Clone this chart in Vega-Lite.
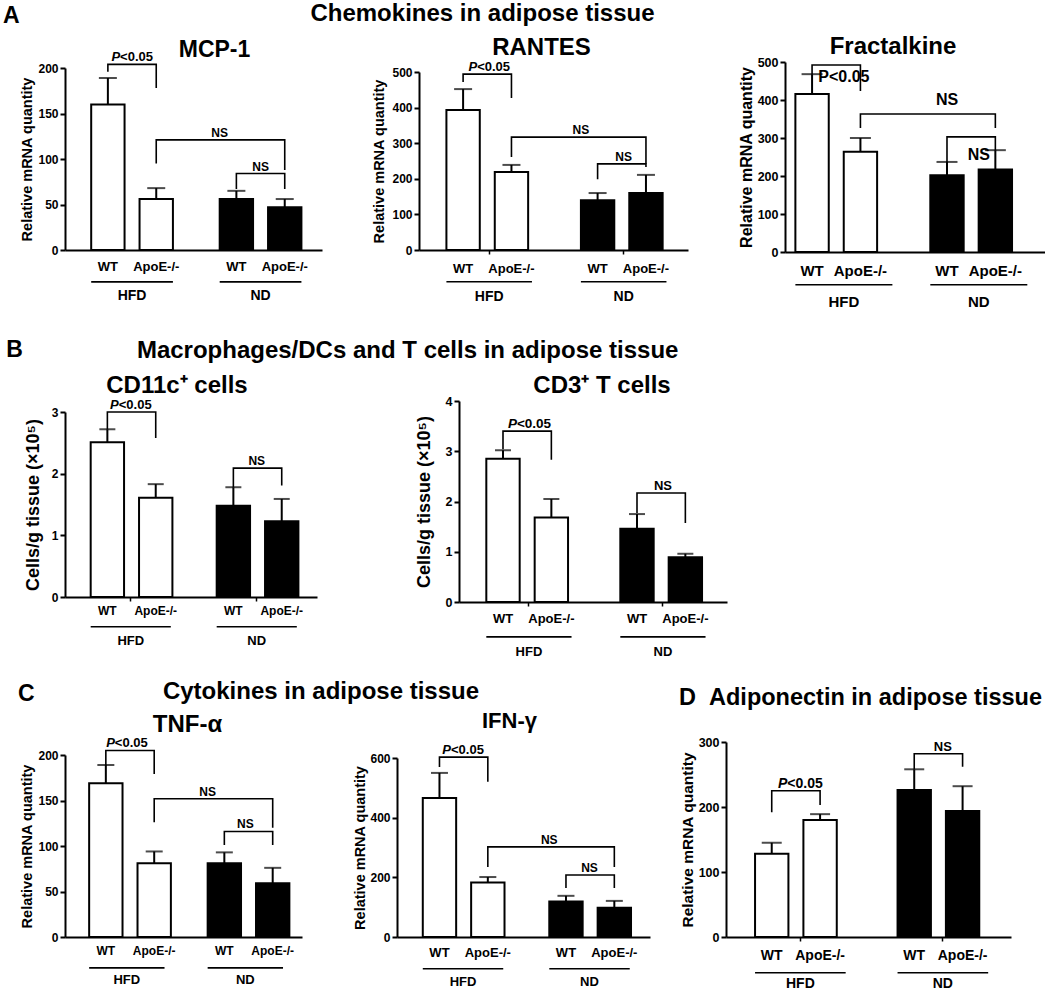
{
"$schema":"https://vega.github.io/schema/vega-lite/v6.json",
"background":"white",
"padding":{"left":2,"top":2,"right":0,"bottom":0},
"config":{"font":"Liberation Sans","view":{"stroke":null},"title":{"fontWeight":"bold","color":"black"},
"axis":{"domainColor":"black","domainWidth":2,"tickColor":"black","tickWidth":2,"tickSize":5,"labelColor":"black","titleColor":"black","labelFontWeight":"bold","titleFontWeight":"bold","grid":false,"labelPadding":2,"labelOverlap":false,"tickCount":10}},
"datasets":{
"bars":[
{"chart":"MCP-1","diet":"HFD","genotype":"WT","mean":160,"upper":189},
{"chart":"MCP-1","diet":"HFD","genotype":"ApoE-/-","mean":56,"upper":68},
{"chart":"MCP-1","diet":"ND","genotype":"WT","mean":56,"upper":65},
{"chart":"MCP-1","diet":"ND","genotype":"ApoE-/-","mean":47,"upper":56},
{"chart":"RANTES","diet":"HFD","genotype":"WT","mean":393,"upper":452},
{"chart":"RANTES","diet":"HFD","genotype":"ApoE-/-","mean":219,"upper":239},
{"chart":"RANTES","diet":"ND","genotype":"WT","mean":140,"upper":160},
{"chart":"RANTES","diet":"ND","genotype":"ApoE-/-","mean":160,"upper":211},
{"chart":"Fractalkine","diet":"HFD","genotype":"WT","mean":416,"upper":468},
{"chart":"Fractalkine","diet":"HFD","genotype":"ApoE-/-","mean":264,"upper":300},
{"chart":"Fractalkine","diet":"ND","genotype":"WT","mean":202,"upper":237},
{"chart":"Fractalkine","diet":"ND","genotype":"ApoE-/-","mean":217,"upper":268},
{"chart":"CD11c","diet":"HFD","genotype":"WT","mean":2.51,"upper":2.72},
{"chart":"CD11c","diet":"HFD","genotype":"ApoE-/-","mean":1.61,"upper":1.83},
{"chart":"CD11c","diet":"ND","genotype":"WT","mean":1.48,"upper":1.78},
{"chart":"CD11c","diet":"ND","genotype":"ApoE-/-","mean":1.23,"upper":1.59},
{"chart":"CD3","diet":"HFD","genotype":"WT","mean":2.85,"upper":3.02},
{"chart":"CD3","diet":"HFD","genotype":"ApoE-/-","mean":1.68,"upper":2.05},
{"chart":"CD3","diet":"ND","genotype":"WT","mean":1.46,"upper":1.75},
{"chart":"CD3","diet":"ND","genotype":"ApoE-/-","mean":0.89,"upper":0.96},
{"chart":"TNF","diet":"HFD","genotype":"WT","mean":169,"upper":189},
{"chart":"TNF","diet":"HFD","genotype":"ApoE-/-","mean":81,"upper":94},
{"chart":"TNF","diet":"ND","genotype":"WT","mean":81,"upper":93},
{"chart":"TNF","diet":"ND","genotype":"ApoE-/-","mean":59,"upper":76},
{"chart":"IFN","diet":"HFD","genotype":"WT","mean":466,"upper":550},
{"chart":"IFN","diet":"HFD","genotype":"ApoE-/-","mean":183,"upper":201},
{"chart":"IFN","diet":"ND","genotype":"WT","mean":119,"upper":138},
{"chart":"IFN","diet":"ND","genotype":"ApoE-/-","mean":98,"upper":121},
{"chart":"Adiponectin","diet":"HFD","genotype":"WT","mean":128,"upper":145},
{"chart":"Adiponectin","diet":"HFD","genotype":"ApoE-/-","mean":180,"upper":189},
{"chart":"Adiponectin","diet":"ND","genotype":"WT","mean":226,"upper":258},
{"chart":"Adiponectin","diet":"ND","genotype":"ApoE-/-","mean":194,"upper":232}
],
"brackets":[
{"chart":"MCP-1","b":"p","i":0,"diet":"HFD","genotype":"WT","y":196},
{"chart":"MCP-1","b":"p","i":1,"diet":"HFD","genotype":"WT","y":204},
{"chart":"MCP-1","b":"p","i":2,"diet":"HFD","genotype":"ApoE-/-","y":204},
{"chart":"MCP-1","b":"p","i":3,"diet":"HFD","genotype":"ApoE-/-","y":178},
{"chart":"MCP-1","b":"n1","i":0,"diet":"HFD","genotype":"ApoE-/-","y":95},
{"chart":"MCP-1","b":"n1","i":1,"diet":"HFD","genotype":"ApoE-/-","y":121},
{"chart":"MCP-1","b":"n1","i":2,"diet":"ND","genotype":"ApoE-/-","y":121},
{"chart":"MCP-1","b":"n1","i":3,"diet":"ND","genotype":"ApoE-/-","y":88},
{"chart":"MCP-1","b":"n2","i":0,"diet":"ND","genotype":"WT","y":67},
{"chart":"MCP-1","b":"n2","i":1,"diet":"ND","genotype":"WT","y":84},
{"chart":"MCP-1","b":"n2","i":2,"diet":"ND","genotype":"ApoE-/-","y":84},
{"chart":"MCP-1","b":"n2","i":3,"diet":"ND","genotype":"ApoE-/-","y":67},
{"chart":"RANTES","b":"p","i":0,"diet":"HFD","genotype":"WT","y":472},
{"chart":"RANTES","b":"p","i":1,"diet":"HFD","genotype":"WT","y":494},
{"chart":"RANTES","b":"p","i":2,"diet":"HFD","genotype":"ApoE-/-","y":494},
{"chart":"RANTES","b":"p","i":3,"diet":"HFD","genotype":"ApoE-/-","y":427},
{"chart":"RANTES","b":"n1","i":0,"diet":"HFD","genotype":"ApoE-/-","y":261},
{"chart":"RANTES","b":"n1","i":1,"diet":"HFD","genotype":"ApoE-/-","y":317},
{"chart":"RANTES","b":"n1","i":2,"diet":"ND","genotype":"ApoE-/-","y":317},
{"chart":"RANTES","b":"n1","i":3,"diet":"ND","genotype":"ApoE-/-","y":242},
{"chart":"RANTES","b":"n2","i":0,"diet":"ND","genotype":"WT","y":199},
{"chart":"RANTES","b":"n2","i":1,"diet":"ND","genotype":"WT","y":242},
{"chart":"RANTES","b":"n2","i":2,"diet":"ND","genotype":"ApoE-/-","y":242},
{"chart":"RANTES","b":"n2","i":3,"diet":"ND","genotype":"ApoE-/-","y":233},
{"chart":"Fractalkine","b":"p","i":0,"diet":"HFD","genotype":"WT","y":468},
{"chart":"Fractalkine","b":"p","i":1,"diet":"HFD","genotype":"WT","y":492},
{"chart":"Fractalkine","b":"p","i":2,"diet":"HFD","genotype":"ApoE-/-","y":492},
{"chart":"Fractalkine","b":"p","i":3,"diet":"HFD","genotype":"ApoE-/-","y":424},
{"chart":"Fractalkine","b":"n1","i":0,"diet":"HFD","genotype":"ApoE-/-","y":326},
{"chart":"Fractalkine","b":"n1","i":1,"diet":"HFD","genotype":"ApoE-/-","y":363},
{"chart":"Fractalkine","b":"n1","i":2,"diet":"ND","genotype":"ApoE-/-","y":363},
{"chart":"Fractalkine","b":"n1","i":3,"diet":"ND","genotype":"ApoE-/-","y":326},
{"chart":"Fractalkine","b":"n2","i":0,"diet":"ND","genotype":"WT","y":237},
{"chart":"Fractalkine","b":"n2","i":1,"diet":"ND","genotype":"WT","y":303},
{"chart":"Fractalkine","b":"n2","i":2,"diet":"ND","genotype":"ApoE-/-","y":303},
{"chart":"Fractalkine","b":"n2","i":3,"diet":"ND","genotype":"ApoE-/-","y":268},
{"chart":"CD11c","b":"p","i":0,"diet":"HFD","genotype":"WT","y":2.72},
{"chart":"CD11c","b":"p","i":1,"diet":"HFD","genotype":"WT","y":3.0},
{"chart":"CD11c","b":"p","i":2,"diet":"HFD","genotype":"ApoE-/-","y":3.0},
{"chart":"CD11c","b":"p","i":3,"diet":"HFD","genotype":"ApoE-/-","y":2.58},
{"chart":"CD11c","b":"n","i":0,"diet":"ND","genotype":"WT","y":1.78},
{"chart":"CD11c","b":"n","i":1,"diet":"ND","genotype":"WT","y":2.09},
{"chart":"CD11c","b":"n","i":2,"diet":"ND","genotype":"ApoE-/-","y":2.09},
{"chart":"CD11c","b":"n","i":3,"diet":"ND","genotype":"ApoE-/-","y":1.81},
{"chart":"CD3","b":"p","i":0,"diet":"HFD","genotype":"WT","y":3.04},
{"chart":"CD3","b":"p","i":1,"diet":"HFD","genotype":"WT","y":3.4},
{"chart":"CD3","b":"p","i":2,"diet":"HFD","genotype":"ApoE-/-","y":3.4},
{"chart":"CD3","b":"p","i":3,"diet":"HFD","genotype":"ApoE-/-","y":2.83},
{"chart":"CD3","b":"n","i":0,"diet":"ND","genotype":"WT","y":1.77},
{"chart":"CD3","b":"n","i":1,"diet":"ND","genotype":"WT","y":2.17},
{"chart":"CD3","b":"n","i":2,"diet":"ND","genotype":"ApoE-/-","y":2.17},
{"chart":"CD3","b":"n","i":3,"diet":"ND","genotype":"ApoE-/-","y":1.57},
{"chart":"TNF","b":"p","i":0,"diet":"HFD","genotype":"WT","y":189},
{"chart":"TNF","b":"p","i":1,"diet":"HFD","genotype":"WT","y":205},
{"chart":"TNF","b":"p","i":2,"diet":"HFD","genotype":"ApoE-/-","y":205},
{"chart":"TNF","b":"p","i":3,"diet":"HFD","genotype":"ApoE-/-","y":179},
{"chart":"TNF","b":"n1","i":0,"diet":"HFD","genotype":"ApoE-/-","y":126},
{"chart":"TNF","b":"n1","i":1,"diet":"HFD","genotype":"ApoE-/-","y":152},
{"chart":"TNF","b":"n1","i":2,"diet":"ND","genotype":"ApoE-/-","y":152},
{"chart":"TNF","b":"n1","i":3,"diet":"ND","genotype":"ApoE-/-","y":120},
{"chart":"TNF","b":"n2","i":0,"diet":"ND","genotype":"WT","y":101},
{"chart":"TNF","b":"n2","i":1,"diet":"ND","genotype":"WT","y":116},
{"chart":"TNF","b":"n2","i":2,"diet":"ND","genotype":"ApoE-/-","y":116},
{"chart":"TNF","b":"n2","i":3,"diet":"ND","genotype":"ApoE-/-","y":101},
{"chart":"IFN","b":"p","i":0,"diet":"HFD","genotype":"WT","y":570},
{"chart":"IFN","b":"p","i":1,"diet":"HFD","genotype":"WT","y":603},
{"chart":"IFN","b":"p","i":2,"diet":"HFD","genotype":"ApoE-/-","y":603},
{"chart":"IFN","b":"p","i":3,"diet":"HFD","genotype":"ApoE-/-","y":520},
{"chart":"IFN","b":"n1","i":0,"diet":"HFD","genotype":"ApoE-/-","y":235},
{"chart":"IFN","b":"n1","i":1,"diet":"HFD","genotype":"ApoE-/-","y":302},
{"chart":"IFN","b":"n1","i":2,"diet":"ND","genotype":"ApoE-/-","y":302},
{"chart":"IFN","b":"n1","i":3,"diet":"ND","genotype":"ApoE-/-","y":235},
{"chart":"IFN","b":"n2","i":0,"diet":"ND","genotype":"WT","y":164},
{"chart":"IFN","b":"n2","i":1,"diet":"ND","genotype":"WT","y":208},
{"chart":"IFN","b":"n2","i":2,"diet":"ND","genotype":"ApoE-/-","y":208},
{"chart":"IFN","b":"n2","i":3,"diet":"ND","genotype":"ApoE-/-","y":164},
{"chart":"Adiponectin","b":"p","i":0,"diet":"HFD","genotype":"WT","y":192},
{"chart":"Adiponectin","b":"p","i":1,"diet":"HFD","genotype":"WT","y":225},
{"chart":"Adiponectin","b":"p","i":2,"diet":"HFD","genotype":"ApoE-/-","y":225},
{"chart":"Adiponectin","b":"p","i":3,"diet":"HFD","genotype":"ApoE-/-","y":203},
{"chart":"Adiponectin","b":"n","i":0,"diet":"ND","genotype":"WT","y":258},
{"chart":"Adiponectin","b":"n","i":1,"diet":"ND","genotype":"WT","y":282},
{"chart":"Adiponectin","b":"n","i":2,"diet":"ND","genotype":"ApoE-/-","y":282},
{"chart":"Adiponectin","b":"n","i":3,"diet":"ND","genotype":"ApoE-/-","y":262}
],
"labels":[
{"chart":"MCP-1","label":"P<0.05","pos":"p","diet":"HFD","genotype":"WT","y":204},
{"chart":"MCP-1","label":"NS","pos":"a","diet":"ND","genotype":"WT","y":121},
{"chart":"MCP-1","label":"NS","pos":"c","diet":"ND","genotype":"WT","y":84},
{"chart":"RANTES","label":"P<0.05","pos":"p","diet":"HFD","genotype":"WT","y":494},
{"chart":"RANTES","label":"NS","pos":"a","diet":"ND","genotype":"WT","y":317},
{"chart":"RANTES","label":"NS","pos":"c","diet":"ND","genotype":"WT","y":242},
{"chart":"Fractalkine","label":"P<0.05","pos":"c","diet":"HFD","genotype":"WT","y":439},
{"chart":"Fractalkine","label":"NS","pos":"b","diet":"ND","genotype":"WT","y":379},
{"chart":"Fractalkine","label":"NS","pos":"c","diet":"ND","genotype":"WT","y":234},
{"chart":"CD11c","label":"P<0.05","pos":"p","diet":"HFD","genotype":"WT","y":3.0},
{"chart":"CD11c","label":"NS","pos":"c","diet":"ND","genotype":"WT","y":2.09},
{"chart":"CD3","label":"P<0.05","pos":"p","diet":"HFD","genotype":"WT","y":3.4},
{"chart":"CD3","label":"NS","pos":"c","diet":"ND","genotype":"WT","y":2.17},
{"chart":"TNF","label":"P<0.05","pos":"p","diet":"HFD","genotype":"WT","y":205},
{"chart":"TNF","label":"NS","pos":"a","diet":"ND","genotype":"WT","y":152},
{"chart":"TNF","label":"NS","pos":"c","diet":"ND","genotype":"WT","y":116},
{"chart":"IFN","label":"P<0.05","pos":"p","diet":"HFD","genotype":"WT","y":603},
{"chart":"IFN","label":"NS","pos":"a","diet":"ND","genotype":"WT","y":302},
{"chart":"IFN","label":"NS","pos":"c","diet":"ND","genotype":"WT","y":208},
{"chart":"Adiponectin","label":"P<0.05","pos":"p","diet":"HFD","genotype":"WT","y":225},
{"chart":"Adiponectin","label":"NS","pos":"c","diet":"ND","genotype":"WT","y":282}
]
},
"vconcat":[
{"vconcat":[
{"title":{"text":"A","anchor":"start","frame":"bounds","fontSize":23,"offset":-26,"dx":-17},
 "vconcat":[{"title":{"text":"Chemokines in adipose tissue","anchor":"middle","frame":"bounds","fontSize":24,"dx":-50,"offset":9},
 "bounds":"flush","spacing":97,
 "hconcat":[
{"width":257,"height":182,"title":{"text":"MCP-1","fontSize":23,"dx":21,"offset":-11},
"layer":[
{"data":{"name":"bars"},"transform":[{"filter":{"field":"chart","equal":"MCP-1"}}],"mark":{"type":"bar","stroke":"black","strokeWidth":2},
"encoding":{"x":{"field":"diet","type":"nominal","scale":{"domain":["HFD","ND"],"paddingInner":0.364,"paddingOuter":0.182,"align":0.56},"axis":{"title":null,"labelAngle":0,"labelFontSize":14,"labelPadding":38,"ticks":false}},
"xOffset":{"field":"genotype","type":"nominal","scale":{"domain":["WT","ApoE-/-"],"paddingInner":0.31,"paddingOuter":0}},
"y":{"field":"mean","type":"quantitative","scale":{"domain":[0,200],"nice":false},"axis":{"title":"Relative mRNA quantity","values":[0,50,100,150,200],"titleFontSize":14.5,"labelFontSize":12,"titlePadding":3}},
"fill":{"field":"diet","type":"nominal","scale":{"domain":["HFD","ND"],"range":["#ffffff","#000000"]},"legend":null}}},
{"data":{"name":"bars"},"transform":[{"filter":{"field":"chart","equal":"MCP-1"}}],"mark":{"type":"rule","color":"black","strokeWidth":2},
"encoding":{"x":{"field":"diet","type":"nominal","scale":{"domain":["HFD","ND"],"paddingInner":0.364,"paddingOuter":0.182,"align":0.56}},"xOffset":{"field":"genotype","type":"nominal","scale":{"domain":["WT","ApoE-/-"],"paddingInner":0.31,"paddingOuter":0}},"y":{"field":"mean","type":"quantitative","scale":{"domain":[0,200],"nice":false}},"y2":{"field":"upper"}}},
{"data":{"name":"bars"},"transform":[{"filter":{"field":"chart","equal":"MCP-1"}}],"mark":{"type":"tick","color":"black","thickness":2,"size":18},
"encoding":{"x":{"field":"diet","type":"nominal","scale":{"domain":["HFD","ND"],"paddingInner":0.364,"paddingOuter":0.182,"align":0.56}},"xOffset":{"field":"genotype","type":"nominal","scale":{"domain":["WT","ApoE-/-"],"paddingInner":0.31,"paddingOuter":0}},"y":{"field":"upper","type":"quantitative","scale":{"domain":[0,200],"nice":false}}}},
{"data":{"name":"bars"},"transform":[{"filter":{"field":"chart","equal":"MCP-1"}}],"mark":{"type":"text","baseline":"top","dy":11,"fontSize":13,"fontWeight":"bold","color":"black"},
"encoding":{"x":{"field":"diet","type":"nominal","scale":{"domain":["HFD","ND"],"paddingInner":0.364,"paddingOuter":0.182,"align":0.56}},"xOffset":{"field":"genotype","type":"nominal","scale":{"domain":["WT","ApoE-/-"],"paddingInner":0.31,"paddingOuter":0}},"y":{"datum":0,"type":"quantitative","scale":{"domain":[0,200],"nice":false}},"text":{"field":"genotype"}}},
{"data":{"name":"bars"},"transform":[{"filter":{"field":"chart","equal":"MCP-1"}},{"filter":{"field":"genotype","equal":"WT"}}],"mark":{"type":"bar","color":"black"},
"encoding":{"x":{"field":"diet","type":"nominal","scale":{"domain":["HFD","ND"],"paddingInner":0.364,"paddingOuter":0.182,"align":0.56}},"y":{"datum":-34.1,"type":"quantitative","scale":{"domain":[0,200],"nice":false}},"y2":{"datum":-35.9}}},
{"data":{"name":"brackets"},"transform":[{"filter":{"field":"chart","equal":"MCP-1"}}],"mark":{"type":"line","color":"black","strokeWidth":1.6},
"encoding":{"x":{"field":"diet","type":"nominal","scale":{"domain":["HFD","ND"],"paddingInner":0.364,"paddingOuter":0.182,"align":0.56}},"xOffset":{"field":"genotype","type":"nominal","scale":{"domain":["WT","ApoE-/-"],"paddingInner":0.31,"paddingOuter":0}},"y":{"field":"y","type":"quantitative","scale":{"domain":[0,200],"nice":false}},"detail":{"field":"b","type":"nominal"},"order":{"field":"i","type":"quantitative"}}},
{"data":{"name":"labels"},"transform":[{"filter":{"field":"chart","equal":"MCP-1"}},{"filter":{"field":"pos","equal":"c"}}],"mark":{"type":"text","baseline":"alphabetic","dy":-3,"fontSize":12,"fontWeight":"bold","color":"black"},
"encoding":{"x":{"field":"diet","type":"nominal","scale":{"domain":["HFD","ND"],"paddingInner":0.364,"paddingOuter":0.182,"align":0.56}},"y":{"field":"y","type":"quantitative","scale":{"domain":[0,200],"nice":false}},"text":{"field":"label"}}},
{"data":{"name":"labels"},"transform":[{"filter":{"field":"chart","equal":"MCP-1"}},{"filter":{"field":"pos","equal":"a"}}],"mark":{"type":"text","baseline":"alphabetic","dy":-3,"fontSize":12,"fontWeight":"bold","color":"black"},
"encoding":{"x":{"field":"diet","type":"nominal","bandPosition":0,"scale":{"domain":["HFD","ND"],"paddingInner":0.364,"paddingOuter":0.182,"align":0.56}},"y":{"field":"y","type":"quantitative","scale":{"domain":[0,200],"nice":false}},"text":{"field":"label"}}},
{"data":{"name":"labels"},"transform":[{"filter":{"field":"chart","equal":"MCP-1"}},{"filter":{"field":"pos","equal":"p"}}],"mark":{"type":"text","baseline":"alphabetic","align":"right","dy":-3,"dx":-12,"fontSize":13,"fontWeight":"bold","fontStyle":"italic","color":"black"},
"encoding":{"x":{"field":"diet","type":"nominal","scale":{"domain":["HFD","ND"],"paddingInner":0.364,"paddingOuter":0.182,"align":0.56}},"y":{"field":"y","type":"quantitative","scale":{"domain":[0,200],"nice":false}},"text":{"value":"P"}}},
{"data":{"name":"labels"},"transform":[{"filter":{"field":"chart","equal":"MCP-1"}},{"filter":{"field":"pos","equal":"p"}}],"mark":{"type":"text","baseline":"alphabetic","align":"left","dy":-3,"dx":-12,"fontSize":13,"fontWeight":"bold","color":"black"},
"encoding":{"x":{"field":"diet","type":"nominal","scale":{"domain":["HFD","ND"],"paddingInner":0.364,"paddingOuter":0.182,"align":0.56}},"y":{"field":"y","type":"quantitative","scale":{"domain":[0,200],"nice":false}},"text":{"value":"<0.05"}}}
]},
{"width":269,"height":182,"title":{"text":"RANTES","fontSize":24,"dx":-12,"offset":1},
"layer":[
{"data":{"name":"bars"},"transform":[{"filter":{"field":"chart","equal":"RANTES"}}],"mark":{"type":"bar","stroke":"black","strokeWidth":2},
"encoding":{"x":{"field":"diet","type":"nominal","scale":{"domain":["HFD","ND"],"paddingInner":0.364,"paddingOuter":0.182,"align":0.56},"axis":{"title":null,"labelAngle":0,"labelFontSize":14,"labelPadding":35,"ticks":true,"tickSize":4,"tickWidth":1.5}},
"xOffset":{"field":"genotype","type":"nominal","scale":{"domain":["WT","ApoE-/-"],"paddingInner":0.31,"paddingOuter":0}},
"y":{"field":"mean","type":"quantitative","scale":{"domain":[0,500],"range":[182,4],"nice":false},"axis":{"title":"Relative mRNA quantity","values":[0,100,200,300,400,500],"tickCount":10,"titleFontSize":14.5,"labelFontSize":12,"titlePadding":5}},
"fill":{"field":"diet","type":"nominal","scale":{"domain":["HFD","ND"],"range":["#ffffff","#000000"]},"legend":null}}},
{"data":{"name":"bars"},"transform":[{"filter":{"field":"chart","equal":"RANTES"}}],"mark":{"type":"rule","color":"black","strokeWidth":2},
"encoding":{"x":{"field":"diet","type":"nominal","scale":{"domain":["HFD","ND"],"paddingInner":0.364,"paddingOuter":0.182,"align":0.56}},"xOffset":{"field":"genotype","type":"nominal","scale":{"domain":["WT","ApoE-/-"],"paddingInner":0.31,"paddingOuter":0}},"y":{"field":"mean","type":"quantitative","scale":{"domain":[0,500],"range":[182,4],"nice":false}},"y2":{"field":"upper"}}},
{"data":{"name":"bars"},"transform":[{"filter":{"field":"chart","equal":"RANTES"}}],"mark":{"type":"tick","color":"black","thickness":2,"size":18},
"encoding":{"x":{"field":"diet","type":"nominal","scale":{"domain":["HFD","ND"],"paddingInner":0.364,"paddingOuter":0.182,"align":0.56}},"xOffset":{"field":"genotype","type":"nominal","scale":{"domain":["WT","ApoE-/-"],"paddingInner":0.31,"paddingOuter":0}},"y":{"field":"upper","type":"quantitative","scale":{"domain":[0,500],"range":[182,4],"nice":false}}}},
{"data":{"name":"bars"},"transform":[{"filter":{"field":"chart","equal":"RANTES"}}],"mark":{"type":"text","baseline":"top","dy":13,"fontSize":13,"fontWeight":"bold","color":"black"},
"encoding":{"x":{"field":"diet","type":"nominal","scale":{"domain":["HFD","ND"],"paddingInner":0.364,"paddingOuter":0.182,"align":0.56}},"xOffset":{"field":"genotype","type":"nominal","scale":{"domain":["WT","ApoE-/-"],"paddingInner":0.31,"paddingOuter":0}},"y":{"datum":0,"type":"quantitative","scale":{"domain":[0,500],"range":[182,4],"nice":false}},"text":{"field":"genotype"}}},
{"data":{"name":"bars"},"transform":[{"filter":{"field":"chart","equal":"RANTES"}},{"filter":{"field":"genotype","equal":"WT"}}],"mark":{"type":"bar","color":"black"},
"encoding":{"x":{"field":"diet","type":"nominal","scale":{"domain":["HFD","ND"],"paddingInner":0.364,"paddingOuter":0.182,"align":0.56}},"y":{"datum":-87.1,"type":"quantitative","scale":{"domain":[0,500],"range":[182,4],"nice":false}},"y2":{"datum":-91.6}}},
{"data":{"name":"brackets"},"transform":[{"filter":{"field":"chart","equal":"RANTES"}}],"mark":{"type":"line","color":"black","strokeWidth":1.6},
"encoding":{"x":{"field":"diet","type":"nominal","scale":{"domain":["HFD","ND"],"paddingInner":0.364,"paddingOuter":0.182,"align":0.56}},"xOffset":{"field":"genotype","type":"nominal","scale":{"domain":["WT","ApoE-/-"],"paddingInner":0.31,"paddingOuter":0}},"y":{"field":"y","type":"quantitative","scale":{"domain":[0,500],"range":[182,4],"nice":false}},"detail":{"field":"b","type":"nominal"},"order":{"field":"i","type":"quantitative"}}},
{"data":{"name":"labels"},"transform":[{"filter":{"field":"chart","equal":"RANTES"}},{"filter":{"field":"pos","equal":"c"}}],"mark":{"type":"text","baseline":"alphabetic","dy":-3,"fontSize":12,"fontWeight":"bold","color":"black"},
"encoding":{"x":{"field":"diet","type":"nominal","scale":{"domain":["HFD","ND"],"paddingInner":0.364,"paddingOuter":0.182,"align":0.56}},"y":{"field":"y","type":"quantitative","scale":{"domain":[0,500],"range":[182,4],"nice":false}},"text":{"field":"label"}}},
{"data":{"name":"labels"},"transform":[{"filter":{"field":"chart","equal":"RANTES"}},{"filter":{"field":"pos","equal":"a"}}],"mark":{"type":"text","baseline":"alphabetic","dy":-3,"fontSize":12,"fontWeight":"bold","color":"black"},
"encoding":{"x":{"field":"diet","type":"nominal","bandPosition":0,"scale":{"domain":["HFD","ND"],"paddingInner":0.364,"paddingOuter":0.182,"align":0.56}},"y":{"field":"y","type":"quantitative","scale":{"domain":[0,500],"range":[182,4],"nice":false}},"text":{"field":"label"}}},
{"data":{"name":"labels"},"transform":[{"filter":{"field":"chart","equal":"RANTES"}},{"filter":{"field":"pos","equal":"p"}}],"mark":{"type":"text","baseline":"alphabetic","align":"right","dy":-3,"dx":-12,"fontSize":13,"fontWeight":"bold","fontStyle":"italic","color":"black"},
"encoding":{"x":{"field":"diet","type":"nominal","scale":{"domain":["HFD","ND"],"paddingInner":0.364,"paddingOuter":0.182,"align":0.56}},"y":{"field":"y","type":"quantitative","scale":{"domain":[0,500],"range":[182,4],"nice":false}},"text":{"value":"P"}}},
{"data":{"name":"labels"},"transform":[{"filter":{"field":"chart","equal":"RANTES"}},{"filter":{"field":"pos","equal":"p"}}],"mark":{"type":"text","baseline":"alphabetic","align":"left","dy":-3,"dx":-12,"fontSize":13,"fontWeight":"bold","color":"black"},
"encoding":{"x":{"field":"diet","type":"nominal","scale":{"domain":["HFD","ND"],"paddingInner":0.364,"paddingOuter":0.182,"align":0.56}},"y":{"field":"y","type":"quantitative","scale":{"domain":[0,500],"range":[182,4],"nice":false}},"text":{"value":"<0.05"}}}
]},
{"width":260,"height":184,"title":{"text":"Fractalkine","fontSize":24,"dx":-22,"offset":-3},
"layer":[
{"data":{"name":"bars"},"transform":[{"filter":{"field":"chart","equal":"Fractalkine"}}],"mark":{"type":"bar","stroke":"black","strokeWidth":2},
"encoding":{"x":{"field":"diet","type":"nominal","scale":{"domain":["HFD","ND"],"paddingInner":0.281,"paddingOuter":0.104,"align":0.37},"axis":{"title":null,"labelAngle":0,"labelFontSize":15,"labelPadding":42,"ticks":false}},
"xOffset":{"field":"genotype","type":"nominal","scale":{"domain":["WT","ApoE-/-"],"paddingInner":0.327,"paddingOuter":0}},
"y":{"field":"mean","type":"quantitative","scale":{"domain":[0,500],"range":[184,-6],"nice":false},"axis":{"title":"Relative mRNA quantity","values":[0,100,200,300,400,500],"tickCount":10,"titleFontSize":16,"labelFontSize":12.5,"titlePadding":3}},
"fill":{"field":"diet","type":"nominal","scale":{"domain":["HFD","ND"],"range":["#ffffff","#000000"]},"legend":null}}},
{"data":{"name":"bars"},"transform":[{"filter":{"field":"chart","equal":"Fractalkine"}}],"mark":{"type":"rule","color":"black","strokeWidth":2},
"encoding":{"x":{"field":"diet","type":"nominal","scale":{"domain":["HFD","ND"],"paddingInner":0.281,"paddingOuter":0.104,"align":0.37}},"xOffset":{"field":"genotype","type":"nominal","scale":{"domain":["WT","ApoE-/-"],"paddingInner":0.327,"paddingOuter":0}},"y":{"field":"mean","type":"quantitative","scale":{"domain":[0,500],"range":[184,-6],"nice":false}},"y2":{"field":"upper"}}},
{"data":{"name":"bars"},"transform":[{"filter":{"field":"chart","equal":"Fractalkine"}}],"mark":{"type":"tick","color":"black","thickness":2,"size":21},
"encoding":{"x":{"field":"diet","type":"nominal","scale":{"domain":["HFD","ND"],"paddingInner":0.281,"paddingOuter":0.104,"align":0.37}},"xOffset":{"field":"genotype","type":"nominal","scale":{"domain":["WT","ApoE-/-"],"paddingInner":0.327,"paddingOuter":0}},"y":{"field":"upper","type":"quantitative","scale":{"domain":[0,500],"range":[184,-6],"nice":false}}}},
{"data":{"name":"bars"},"transform":[{"filter":{"field":"chart","equal":"Fractalkine"}}],"mark":{"type":"text","baseline":"top","dy":12,"fontSize":15,"fontWeight":"bold","color":"black"},
"encoding":{"x":{"field":"diet","type":"nominal","scale":{"domain":["HFD","ND"],"paddingInner":0.281,"paddingOuter":0.104,"align":0.37}},"xOffset":{"field":"genotype","type":"nominal","scale":{"domain":["WT","ApoE-/-"],"paddingInner":0.327,"paddingOuter":0}},"y":{"datum":0,"type":"quantitative","scale":{"domain":[0,500],"range":[184,-6],"nice":false}},"text":{"field":"genotype"}}},
{"data":{"name":"bars"},"transform":[{"filter":{"field":"chart","equal":"Fractalkine"}},{"filter":{"field":"genotype","equal":"WT"}}],"mark":{"type":"bar","color":"black"},
"encoding":{"x":{"field":"diet","type":"nominal","scale":{"domain":["HFD","ND"],"paddingInner":0.281,"paddingOuter":0.104,"align":0.37}},"y":{"datum":-84.2,"type":"quantitative","scale":{"domain":[0,500],"range":[184,-6],"nice":false}},"y2":{"datum":-88.4}}},
{"data":{"name":"brackets"},"transform":[{"filter":{"field":"chart","equal":"Fractalkine"}}],"mark":{"type":"line","color":"black","strokeWidth":1.6},
"encoding":{"x":{"field":"diet","type":"nominal","scale":{"domain":["HFD","ND"],"paddingInner":0.281,"paddingOuter":0.104,"align":0.37}},"xOffset":{"field":"genotype","type":"nominal","scale":{"domain":["WT","ApoE-/-"],"paddingInner":0.327,"paddingOuter":0}},"y":{"field":"y","type":"quantitative","scale":{"domain":[0,500],"range":[184,-6],"nice":false}},"detail":{"field":"b","type":"nominal"},"order":{"field":"i","type":"quantitative"}}},
{"data":{"name":"labels"},"transform":[{"filter":{"field":"chart","equal":"Fractalkine"}},{"filter":{"field":"pos","equal":"c"}}],"mark":{"type":"text","baseline":"alphabetic","dy":-3,"fontSize":16,"fontWeight":"bold","color":"black"},
"encoding":{"x":{"field":"diet","type":"nominal","scale":{"domain":["HFD","ND"],"paddingInner":0.281,"paddingOuter":0.104,"align":0.37}},"y":{"field":"y","type":"quantitative","scale":{"domain":[0,500],"range":[184,-6],"nice":false}},"text":{"field":"label"}}},
{"data":{"name":"labels"},"transform":[{"filter":{"field":"chart","equal":"Fractalkine"}},{"filter":{"field":"pos","equal":"b"}}],"mark":{"type":"text","baseline":"alphabetic","dy":-3,"fontSize":16,"fontWeight":"bold","color":"black"},
"encoding":{"x":{"field":"diet","type":"nominal","scale":{"domain":["HFD","ND"],"paddingInner":0.281,"paddingOuter":0.104,"align":0.37}},"xOffset":{"field":"genotype","type":"nominal","scale":{"domain":["WT","ApoE-/-"],"paddingInner":0.327,"paddingOuter":0}},"y":{"field":"y","type":"quantitative","scale":{"domain":[0,500],"range":[184,-6],"nice":false}},"text":{"field":"label"}}}
]}
]}]},
{"title":{"text":"B","anchor":"start","frame":"bounds","fontSize":23,"offset":-23,"dx":-18},
 "vconcat":[{"title":{"text":"Macrophages/DCs and T cells in adipose tissue","anchor":"middle","frame":"bounds","fontSize":24,"dx":32,"offset":11},
 "bounds":"flush","spacing":142,
 "hconcat":[
{"width":252,"height":185,"title":{"text":"CD11c⁺ cells","fontSize":24,"dx":-14,"offset":1},
"layer":[
{"data":{"name":"bars"},"transform":[{"filter":{"field":"chart","equal":"CD11c"}}],"mark":{"type":"bar","stroke":"black","strokeWidth":2},
"encoding":{"x":{"field":"diet","type":"nominal","scale":{"domain":["HFD","ND"],"paddingInner":0.364,"paddingOuter":0.182,"align":0.56},"axis":{"title":null,"labelAngle":0,"labelFontSize":13,"labelPadding":33,"ticks":true,"tickSize":4,"tickWidth":1.5}},
"xOffset":{"field":"genotype","type":"nominal","scale":{"domain":["WT","ApoE-/-"],"paddingInner":0.31,"paddingOuter":0}},
"y":{"field":"mean","type":"quantitative","scale":{"domain":[0,3],"nice":false},"axis":{"title":"Cells/g tissue (×10⁵)","values":[0,1,2,3],"format":"d","titleFontSize":18,"labelFontSize":12,"titlePadding":9}},
"fill":{"field":"diet","type":"nominal","scale":{"domain":["HFD","ND"],"range":["#ffffff","#000000"]},"legend":null}}},
{"data":{"name":"bars"},"transform":[{"filter":{"field":"chart","equal":"CD11c"}}],"mark":{"type":"rule","color":"black","strokeWidth":2},
"encoding":{"x":{"field":"diet","type":"nominal","scale":{"domain":["HFD","ND"],"paddingInner":0.364,"paddingOuter":0.182,"align":0.56}},"xOffset":{"field":"genotype","type":"nominal","scale":{"domain":["WT","ApoE-/-"],"paddingInner":0.31,"paddingOuter":0}},"y":{"field":"mean","type":"quantitative","scale":{"domain":[0,3],"nice":false}},"y2":{"field":"upper"}}},
{"data":{"name":"bars"},"transform":[{"filter":{"field":"chart","equal":"CD11c"}}],"mark":{"type":"tick","color":"black","thickness":2,"size":16},
"encoding":{"x":{"field":"diet","type":"nominal","scale":{"domain":["HFD","ND"],"paddingInner":0.364,"paddingOuter":0.182,"align":0.56}},"xOffset":{"field":"genotype","type":"nominal","scale":{"domain":["WT","ApoE-/-"],"paddingInner":0.31,"paddingOuter":0}},"y":{"field":"upper","type":"quantitative","scale":{"domain":[0,3],"nice":false}}}},
{"data":{"name":"bars"},"transform":[{"filter":{"field":"chart","equal":"CD11c"}}],"mark":{"type":"text","baseline":"top","dy":9,"fontSize":12,"fontWeight":"bold","color":"black"},
"encoding":{"x":{"field":"diet","type":"nominal","scale":{"domain":["HFD","ND"],"paddingInner":0.364,"paddingOuter":0.182,"align":0.56}},"xOffset":{"field":"genotype","type":"nominal","scale":{"domain":["WT","ApoE-/-"],"paddingInner":0.31,"paddingOuter":0}},"y":{"datum":0,"type":"quantitative","scale":{"domain":[0,3],"nice":false}},"text":{"field":"genotype"}}},
{"data":{"name":"bars"},"transform":[{"filter":{"field":"chart","equal":"CD11c"}},{"filter":{"field":"genotype","equal":"WT"}}],"mark":{"type":"bar","color":"black"},
"encoding":{"x":{"field":"diet","type":"nominal","scale":{"domain":["HFD","ND"],"paddingInner":0.364,"paddingOuter":0.182,"align":0.56}},"y":{"datum":-0.47,"type":"quantitative","scale":{"domain":[0,3],"nice":false}},"y2":{"datum":-0.496}}},
{"data":{"name":"brackets"},"transform":[{"filter":{"field":"chart","equal":"CD11c"}}],"mark":{"type":"line","color":"black","strokeWidth":1.6},
"encoding":{"x":{"field":"diet","type":"nominal","scale":{"domain":["HFD","ND"],"paddingInner":0.364,"paddingOuter":0.182,"align":0.56}},"xOffset":{"field":"genotype","type":"nominal","scale":{"domain":["WT","ApoE-/-"],"paddingInner":0.31,"paddingOuter":0}},"y":{"field":"y","type":"quantitative","scale":{"domain":[0,3],"nice":false}},"detail":{"field":"b","type":"nominal"},"order":{"field":"i","type":"quantitative"}}},
{"data":{"name":"labels"},"transform":[{"filter":{"field":"chart","equal":"CD11c"}},{"filter":{"field":"pos","equal":"c"}}],"mark":{"type":"text","baseline":"alphabetic","dy":-3,"fontSize":12,"fontWeight":"bold","color":"black"},
"encoding":{"x":{"field":"diet","type":"nominal","scale":{"domain":["HFD","ND"],"paddingInner":0.364,"paddingOuter":0.182,"align":0.56}},"y":{"field":"y","type":"quantitative","scale":{"domain":[0,3],"nice":false}},"text":{"field":"label"}}},
{"data":{"name":"labels"},"transform":[{"filter":{"field":"chart","equal":"CD11c"}},{"filter":{"field":"pos","equal":"p"}}],"mark":{"type":"text","baseline":"alphabetic","align":"right","dy":-3,"dx":-12,"fontSize":13,"fontWeight":"bold","fontStyle":"italic","color":"black"},
"encoding":{"x":{"field":"diet","type":"nominal","scale":{"domain":["HFD","ND"],"paddingInner":0.364,"paddingOuter":0.182,"align":0.56}},"y":{"field":"y","type":"quantitative","scale":{"domain":[0,3],"nice":false}},"text":{"value":"P"}}},
{"data":{"name":"labels"},"transform":[{"filter":{"field":"chart","equal":"CD11c"}},{"filter":{"field":"pos","equal":"p"}}],"mark":{"type":"text","baseline":"alphabetic","align":"left","dy":-3,"dx":-12,"fontSize":13,"fontWeight":"bold","color":"black"},
"encoding":{"x":{"field":"diet","type":"nominal","scale":{"domain":["HFD","ND"],"paddingInner":0.364,"paddingOuter":0.182,"align":0.56}},"y":{"field":"y","type":"quantitative","scale":{"domain":[0,3],"nice":false}},"text":{"value":"<0.05"}}}
]},
{"width":268,"height":190,"title":{"text":"CD3⁺ T cells","fontSize":24,"dx":9,"offset":-3},
"layer":[
{"data":{"name":"bars"},"transform":[{"filter":{"field":"chart","equal":"CD3"}}],"mark":{"type":"bar","stroke":"black","strokeWidth":2},
"encoding":{"x":{"field":"diet","type":"nominal","scale":{"domain":["HFD","ND"],"paddingInner":0.364,"paddingOuter":0.182,"align":0.56},"axis":{"title":null,"labelAngle":0,"labelFontSize":13,"labelPadding":39,"ticks":true,"tickSize":4,"tickWidth":1.5}},
"xOffset":{"field":"genotype","type":"nominal","scale":{"domain":["WT","ApoE-/-"],"paddingInner":0.31,"paddingOuter":0}},
"y":{"field":"mean","type":"quantitative","scale":{"domain":[0,4],"range":[190,-11],"nice":false},"axis":{"title":"Cells/g tissue (×10⁵)","values":[0,1,2,3,4],"format":"d","titleFontSize":18,"labelFontSize":12.5,"titlePadding":12}},
"fill":{"field":"diet","type":"nominal","scale":{"domain":["HFD","ND"],"range":["#ffffff","#000000"]},"legend":null}}},
{"data":{"name":"bars"},"transform":[{"filter":{"field":"chart","equal":"CD3"}}],"mark":{"type":"rule","color":"black","strokeWidth":2},
"encoding":{"x":{"field":"diet","type":"nominal","scale":{"domain":["HFD","ND"],"paddingInner":0.364,"paddingOuter":0.182,"align":0.56}},"xOffset":{"field":"genotype","type":"nominal","scale":{"domain":["WT","ApoE-/-"],"paddingInner":0.31,"paddingOuter":0}},"y":{"field":"mean","type":"quantitative","scale":{"domain":[0,4],"range":[190,-11],"nice":false}},"y2":{"field":"upper"}}},
{"data":{"name":"bars"},"transform":[{"filter":{"field":"chart","equal":"CD3"}}],"mark":{"type":"tick","color":"black","thickness":2,"size":16},
"encoding":{"x":{"field":"diet","type":"nominal","scale":{"domain":["HFD","ND"],"paddingInner":0.364,"paddingOuter":0.182,"align":0.56}},"xOffset":{"field":"genotype","type":"nominal","scale":{"domain":["WT","ApoE-/-"],"paddingInner":0.31,"paddingOuter":0}},"y":{"field":"upper","type":"quantitative","scale":{"domain":[0,4],"range":[190,-11],"nice":false}}}},
{"data":{"name":"bars"},"transform":[{"filter":{"field":"chart","equal":"CD3"}}],"mark":{"type":"text","baseline":"top","dy":11,"fontSize":13,"fontWeight":"bold","color":"black"},
"encoding":{"x":{"field":"diet","type":"nominal","scale":{"domain":["HFD","ND"],"paddingInner":0.364,"paddingOuter":0.182,"align":0.56}},"xOffset":{"field":"genotype","type":"nominal","scale":{"domain":["WT","ApoE-/-"],"paddingInner":0.31,"paddingOuter":0}},"y":{"datum":0,"type":"quantitative","scale":{"domain":[0,4],"range":[190,-11],"nice":false}},"text":{"field":"genotype"}}},
{"data":{"name":"bars"},"transform":[{"filter":{"field":"chart","equal":"CD3"}},{"filter":{"field":"genotype","equal":"WT"}}],"mark":{"type":"bar","color":"black"},
"encoding":{"x":{"field":"diet","type":"nominal","scale":{"domain":["HFD","ND"],"paddingInner":0.364,"paddingOuter":0.182,"align":0.56}},"y":{"datum":-0.677,"type":"quantitative","scale":{"domain":[0,4],"range":[190,-11],"nice":false}},"y2":{"datum":-0.709}}},
{"data":{"name":"brackets"},"transform":[{"filter":{"field":"chart","equal":"CD3"}}],"mark":{"type":"line","color":"black","strokeWidth":1.6},
"encoding":{"x":{"field":"diet","type":"nominal","scale":{"domain":["HFD","ND"],"paddingInner":0.364,"paddingOuter":0.182,"align":0.56}},"xOffset":{"field":"genotype","type":"nominal","scale":{"domain":["WT","ApoE-/-"],"paddingInner":0.31,"paddingOuter":0}},"y":{"field":"y","type":"quantitative","scale":{"domain":[0,4],"range":[190,-11],"nice":false}},"detail":{"field":"b","type":"nominal"},"order":{"field":"i","type":"quantitative"}}},
{"data":{"name":"labels"},"transform":[{"filter":{"field":"chart","equal":"CD3"}},{"filter":{"field":"pos","equal":"c"}}],"mark":{"type":"text","baseline":"alphabetic","dy":-3,"fontSize":13,"fontWeight":"bold","color":"black"},
"encoding":{"x":{"field":"diet","type":"nominal","scale":{"domain":["HFD","ND"],"paddingInner":0.364,"paddingOuter":0.182,"align":0.56}},"y":{"field":"y","type":"quantitative","scale":{"domain":[0,4],"range":[190,-11],"nice":false}},"text":{"field":"label"}}},
{"data":{"name":"labels"},"transform":[{"filter":{"field":"chart","equal":"CD3"}},{"filter":{"field":"pos","equal":"p"}}],"mark":{"type":"text","baseline":"alphabetic","align":"right","dy":-3,"dx":-12,"fontSize":13.5,"fontWeight":"bold","fontStyle":"italic","color":"black"},
"encoding":{"x":{"field":"diet","type":"nominal","scale":{"domain":["HFD","ND"],"paddingInner":0.364,"paddingOuter":0.182,"align":0.56}},"y":{"field":"y","type":"quantitative","scale":{"domain":[0,4],"range":[190,-11],"nice":false}},"text":{"value":"P"}}},
{"data":{"name":"labels"},"transform":[{"filter":{"field":"chart","equal":"CD3"}},{"filter":{"field":"pos","equal":"p"}}],"mark":{"type":"text","baseline":"alphabetic","align":"left","dy":-3,"dx":-12,"fontSize":13.5,"fontWeight":"bold","color":"black"},
"encoding":{"x":{"field":"diet","type":"nominal","scale":{"domain":["HFD","ND"],"paddingInner":0.364,"paddingOuter":0.182,"align":0.56}},"y":{"field":"y","type":"quantitative","scale":{"domain":[0,4],"range":[190,-11],"nice":false}},"text":{"value":"<0.05"}}}
]}
]}]}
],"spacing":30},
{"spacing":29,"hconcat":[
{"title":{"text":"C","anchor":"start","frame":"bounds","fontSize":23,"offset":-26,"dx":-2},
 "vconcat":[{"title":{"text":"Cytokines in adipose tissue","anchor":"middle","frame":"bounds","fontSize":24,"dx":-14,"offset":6},
 "bounds":"flush","spacing":95,
 "hconcat":[
{"width":237,"height":182,"title":{"text":"TNF-α","fontSize":24,"dx":4,"offset":0},
"layer":[
{"data":{"name":"bars"},"transform":[{"filter":{"field":"chart","equal":"TNF"}}],"mark":{"type":"bar","stroke":"black","strokeWidth":2},
"encoding":{"x":{"field":"diet","type":"nominal","scale":{"domain":["HFD","ND"],"paddingInner":0.364,"paddingOuter":0.182,"align":0.56},"axis":{"title":null,"labelAngle":0,"labelFontSize":13,"labelPadding":36,"ticks":false}},
"xOffset":{"field":"genotype","type":"nominal","scale":{"domain":["WT","ApoE-/-"],"paddingInner":0.31,"paddingOuter":0}},
"y":{"field":"mean","type":"quantitative","scale":{"domain":[0,200],"nice":false},"axis":{"title":"Relative mRNA quantity","values":[0,50,100,150,200],"titleFontSize":14.5,"labelFontSize":12,"titlePadding":3}},
"fill":{"field":"diet","type":"nominal","scale":{"domain":["HFD","ND"],"range":["#ffffff","#000000"]},"legend":null}}},
{"data":{"name":"bars"},"transform":[{"filter":{"field":"chart","equal":"TNF"}}],"mark":{"type":"rule","color":"black","strokeWidth":2},
"encoding":{"x":{"field":"diet","type":"nominal","scale":{"domain":["HFD","ND"],"paddingInner":0.364,"paddingOuter":0.182,"align":0.56}},"xOffset":{"field":"genotype","type":"nominal","scale":{"domain":["WT","ApoE-/-"],"paddingInner":0.31,"paddingOuter":0}},"y":{"field":"mean","type":"quantitative","scale":{"domain":[0,200],"nice":false}},"y2":{"field":"upper"}}},
{"data":{"name":"bars"},"transform":[{"filter":{"field":"chart","equal":"TNF"}}],"mark":{"type":"tick","color":"black","thickness":2,"size":17},
"encoding":{"x":{"field":"diet","type":"nominal","scale":{"domain":["HFD","ND"],"paddingInner":0.364,"paddingOuter":0.182,"align":0.56}},"xOffset":{"field":"genotype","type":"nominal","scale":{"domain":["WT","ApoE-/-"],"paddingInner":0.31,"paddingOuter":0}},"y":{"field":"upper","type":"quantitative","scale":{"domain":[0,200],"nice":false}}}},
{"data":{"name":"bars"},"transform":[{"filter":{"field":"chart","equal":"TNF"}}],"mark":{"type":"text","baseline":"top","dy":9,"fontSize":12,"fontWeight":"bold","color":"black"},
"encoding":{"x":{"field":"diet","type":"nominal","scale":{"domain":["HFD","ND"],"paddingInner":0.364,"paddingOuter":0.182,"align":0.56}},"xOffset":{"field":"genotype","type":"nominal","scale":{"domain":["WT","ApoE-/-"],"paddingInner":0.31,"paddingOuter":0}},"y":{"datum":0,"type":"quantitative","scale":{"domain":[0,200],"nice":false}},"text":{"field":"genotype"}}},
{"data":{"name":"bars"},"transform":[{"filter":{"field":"chart","equal":"TNF"}},{"filter":{"field":"genotype","equal":"WT"}}],"mark":{"type":"bar","color":"black"},
"encoding":{"x":{"field":"diet","type":"nominal","scale":{"domain":["HFD","ND"],"paddingInner":0.364,"paddingOuter":0.182,"align":0.56}},"y":{"datum":-33,"type":"quantitative","scale":{"domain":[0,200],"nice":false}},"y2":{"datum":-34.8}}},
{"data":{"name":"brackets"},"transform":[{"filter":{"field":"chart","equal":"TNF"}}],"mark":{"type":"line","color":"black","strokeWidth":1.6},
"encoding":{"x":{"field":"diet","type":"nominal","scale":{"domain":["HFD","ND"],"paddingInner":0.364,"paddingOuter":0.182,"align":0.56}},"xOffset":{"field":"genotype","type":"nominal","scale":{"domain":["WT","ApoE-/-"],"paddingInner":0.31,"paddingOuter":0}},"y":{"field":"y","type":"quantitative","scale":{"domain":[0,200],"nice":false}},"detail":{"field":"b","type":"nominal"},"order":{"field":"i","type":"quantitative"}}},
{"data":{"name":"labels"},"transform":[{"filter":{"field":"chart","equal":"TNF"}},{"filter":{"field":"pos","equal":"c"}}],"mark":{"type":"text","baseline":"alphabetic","dy":-3,"fontSize":12,"fontWeight":"bold","color":"black"},
"encoding":{"x":{"field":"diet","type":"nominal","scale":{"domain":["HFD","ND"],"paddingInner":0.364,"paddingOuter":0.182,"align":0.56}},"y":{"field":"y","type":"quantitative","scale":{"domain":[0,200],"nice":false}},"text":{"field":"label"}}},
{"data":{"name":"labels"},"transform":[{"filter":{"field":"chart","equal":"TNF"}},{"filter":{"field":"pos","equal":"a"}}],"mark":{"type":"text","baseline":"alphabetic","dy":-3,"fontSize":12,"fontWeight":"bold","color":"black"},
"encoding":{"x":{"field":"diet","type":"nominal","bandPosition":0,"scale":{"domain":["HFD","ND"],"paddingInner":0.364,"paddingOuter":0.182,"align":0.56}},"y":{"field":"y","type":"quantitative","scale":{"domain":[0,200],"nice":false}},"text":{"field":"label"}}},
{"data":{"name":"labels"},"transform":[{"filter":{"field":"chart","equal":"TNF"}},{"filter":{"field":"pos","equal":"p"}}],"mark":{"type":"text","baseline":"alphabetic","align":"right","dy":-3,"dx":-12,"fontSize":13,"fontWeight":"bold","fontStyle":"italic","color":"black"},
"encoding":{"x":{"field":"diet","type":"nominal","scale":{"domain":["HFD","ND"],"paddingInner":0.364,"paddingOuter":0.182,"align":0.56}},"y":{"field":"y","type":"quantitative","scale":{"domain":[0,200],"nice":false}},"text":{"value":"P"}}},
{"data":{"name":"labels"},"transform":[{"filter":{"field":"chart","equal":"TNF"}},{"filter":{"field":"pos","equal":"p"}}],"mark":{"type":"text","baseline":"alphabetic","align":"left","dy":-3,"dx":-12,"fontSize":13,"fontWeight":"bold","color":"black"},
"encoding":{"x":{"field":"diet","type":"nominal","scale":{"domain":["HFD","ND"],"paddingInner":0.364,"paddingOuter":0.182,"align":0.56}},"y":{"field":"y","type":"quantitative","scale":{"domain":[0,200],"nice":false}},"text":{"value":"<0.05"}}}
]},
{"width":253,"height":182,"title":{"text":"IFN-γ","fontSize":22,"dx":-14,"offset":11},
"layer":[
{"data":{"name":"bars"},"transform":[{"filter":{"field":"chart","equal":"IFN"}}],"mark":{"type":"bar","stroke":"black","strokeWidth":2},
"encoding":{"x":{"field":"diet","type":"nominal","scale":{"domain":["HFD","ND"],"paddingInner":0.364,"paddingOuter":0.182,"align":0.56},"axis":{"title":null,"labelAngle":0,"labelFontSize":13,"labelPadding":38,"ticks":false}},
"xOffset":{"field":"genotype","type":"nominal","scale":{"domain":["WT","ApoE-/-"],"paddingInner":0.31,"paddingOuter":0}},
"y":{"field":"mean","type":"quantitative","scale":{"domain":[0,600],"range":[182,3],"nice":false},"axis":{"title":"Relative mRNA quantity","values":[0,200,400,600],"titleFontSize":14.5,"labelFontSize":12,"titlePadding":2}},
"fill":{"field":"diet","type":"nominal","scale":{"domain":["HFD","ND"],"range":["#ffffff","#000000"]},"legend":null}}},
{"data":{"name":"bars"},"transform":[{"filter":{"field":"chart","equal":"IFN"}}],"mark":{"type":"rule","color":"black","strokeWidth":2},
"encoding":{"x":{"field":"diet","type":"nominal","scale":{"domain":["HFD","ND"],"paddingInner":0.364,"paddingOuter":0.182,"align":0.56}},"xOffset":{"field":"genotype","type":"nominal","scale":{"domain":["WT","ApoE-/-"],"paddingInner":0.31,"paddingOuter":0}},"y":{"field":"mean","type":"quantitative","scale":{"domain":[0,600],"range":[182,3],"nice":false}},"y2":{"field":"upper"}}},
{"data":{"name":"bars"},"transform":[{"filter":{"field":"chart","equal":"IFN"}}],"mark":{"type":"tick","color":"black","thickness":2,"size":17},
"encoding":{"x":{"field":"diet","type":"nominal","scale":{"domain":["HFD","ND"],"paddingInner":0.364,"paddingOuter":0.182,"align":0.56}},"xOffset":{"field":"genotype","type":"nominal","scale":{"domain":["WT","ApoE-/-"],"paddingInner":0.31,"paddingOuter":0}},"y":{"field":"upper","type":"quantitative","scale":{"domain":[0,600],"range":[182,3],"nice":false}}}},
{"data":{"name":"bars"},"transform":[{"filter":{"field":"chart","equal":"IFN"}}],"mark":{"type":"text","baseline":"top","dy":10,"fontSize":13,"fontWeight":"bold","color":"black"},
"encoding":{"x":{"field":"diet","type":"nominal","scale":{"domain":["HFD","ND"],"paddingInner":0.364,"paddingOuter":0.182,"align":0.56}},"xOffset":{"field":"genotype","type":"nominal","scale":{"domain":["WT","ApoE-/-"],"paddingInner":0.31,"paddingOuter":0}},"y":{"datum":0,"type":"quantitative","scale":{"domain":[0,600],"range":[182,3],"nice":false}},"text":{"field":"genotype"}}},
{"data":{"name":"bars"},"transform":[{"filter":{"field":"chart","equal":"IFN"}},{"filter":{"field":"genotype","equal":"WT"}}],"mark":{"type":"bar","color":"black"},
"encoding":{"x":{"field":"diet","type":"nominal","scale":{"domain":["HFD","ND"],"paddingInner":0.364,"paddingOuter":0.182,"align":0.56}},"y":{"datum":-103.9,"type":"quantitative","scale":{"domain":[0,600],"range":[182,3],"nice":false}},"y2":{"datum":-109.3}}},
{"data":{"name":"brackets"},"transform":[{"filter":{"field":"chart","equal":"IFN"}}],"mark":{"type":"line","color":"black","strokeWidth":1.6},
"encoding":{"x":{"field":"diet","type":"nominal","scale":{"domain":["HFD","ND"],"paddingInner":0.364,"paddingOuter":0.182,"align":0.56}},"xOffset":{"field":"genotype","type":"nominal","scale":{"domain":["WT","ApoE-/-"],"paddingInner":0.31,"paddingOuter":0}},"y":{"field":"y","type":"quantitative","scale":{"domain":[0,600],"range":[182,3],"nice":false}},"detail":{"field":"b","type":"nominal"},"order":{"field":"i","type":"quantitative"}}},
{"data":{"name":"labels"},"transform":[{"filter":{"field":"chart","equal":"IFN"}},{"filter":{"field":"pos","equal":"c"}}],"mark":{"type":"text","baseline":"alphabetic","dy":-3,"fontSize":12,"fontWeight":"bold","color":"black"},
"encoding":{"x":{"field":"diet","type":"nominal","scale":{"domain":["HFD","ND"],"paddingInner":0.364,"paddingOuter":0.182,"align":0.56}},"y":{"field":"y","type":"quantitative","scale":{"domain":[0,600],"range":[182,3],"nice":false}},"text":{"field":"label"}}},
{"data":{"name":"labels"},"transform":[{"filter":{"field":"chart","equal":"IFN"}},{"filter":{"field":"pos","equal":"a"}}],"mark":{"type":"text","baseline":"alphabetic","dy":-3,"fontSize":12,"fontWeight":"bold","color":"black"},
"encoding":{"x":{"field":"diet","type":"nominal","bandPosition":0,"scale":{"domain":["HFD","ND"],"paddingInner":0.364,"paddingOuter":0.182,"align":0.56}},"y":{"field":"y","type":"quantitative","scale":{"domain":[0,600],"range":[182,3],"nice":false}},"text":{"field":"label"}}},
{"data":{"name":"labels"},"transform":[{"filter":{"field":"chart","equal":"IFN"}},{"filter":{"field":"pos","equal":"p"}}],"mark":{"type":"text","baseline":"alphabetic","align":"right","dy":-3,"dx":-12,"fontSize":13,"fontWeight":"bold","fontStyle":"italic","color":"black"},
"encoding":{"x":{"field":"diet","type":"nominal","scale":{"domain":["HFD","ND"],"paddingInner":0.364,"paddingOuter":0.182,"align":0.56}},"y":{"field":"y","type":"quantitative","scale":{"domain":[0,600],"range":[182,3],"nice":false}},"text":{"value":"P"}}},
{"data":{"name":"labels"},"transform":[{"filter":{"field":"chart","equal":"IFN"}},{"filter":{"field":"pos","equal":"p"}}],"mark":{"type":"text","baseline":"alphabetic","align":"left","dy":-3,"dx":-12,"fontSize":13,"fontWeight":"bold","color":"black"},
"encoding":{"x":{"field":"diet","type":"nominal","scale":{"domain":["HFD","ND"],"paddingInner":0.364,"paddingOuter":0.182,"align":0.56}},"y":{"field":"y","type":"quantitative","scale":{"domain":[0,600],"range":[182,3],"nice":false}},"text":{"value":"<0.05"}}}
]}
]}]},
{"width":285,"height":182,"title":{"text":"D\u00a0\u00a0Adiponectin in adipose tissue","fontSize":23.5,"dx":-8,"offset":27},
"layer":[
{"data":{"name":"bars"},"transform":[{"filter":{"field":"chart","equal":"Adiponectin"}}],"mark":{"type":"bar","stroke":"black","strokeWidth":2},
"encoding":{"x":{"field":"diet","type":"nominal","scale":{"domain":["HFD","ND"],"paddingInner":0.364,"paddingOuter":0.182,"align":0.56},"axis":{"title":null,"labelAngle":0,"labelFontSize":14,"labelPadding":35,"ticks":true,"tickSize":4,"tickWidth":1.5}},
"xOffset":{"field":"genotype","type":"nominal","scale":{"domain":["WT","ApoE-/-"],"paddingInner":0.31,"paddingOuter":0}},
"y":{"field":"mean","type":"quantitative","scale":{"domain":[0,300],"range":[182,-13],"nice":false},"axis":{"title":"Relative mRNA quantity","values":[0,100,200,300],"titleFontSize":15.5,"labelFontSize":12.5,"titlePadding":3}},
"fill":{"field":"diet","type":"nominal","scale":{"domain":["HFD","ND"],"range":["#ffffff","#000000"]},"legend":null}}},
{"data":{"name":"bars"},"transform":[{"filter":{"field":"chart","equal":"Adiponectin"}}],"mark":{"type":"rule","color":"black","strokeWidth":2},
"encoding":{"x":{"field":"diet","type":"nominal","scale":{"domain":["HFD","ND"],"paddingInner":0.364,"paddingOuter":0.182,"align":0.56}},"xOffset":{"field":"genotype","type":"nominal","scale":{"domain":["WT","ApoE-/-"],"paddingInner":0.31,"paddingOuter":0}},"y":{"field":"mean","type":"quantitative","scale":{"domain":[0,300],"range":[182,-13],"nice":false}},"y2":{"field":"upper"}}},
{"data":{"name":"bars"},"transform":[{"filter":{"field":"chart","equal":"Adiponectin"}}],"mark":{"type":"tick","color":"black","thickness":2,"size":20},
"encoding":{"x":{"field":"diet","type":"nominal","scale":{"domain":["HFD","ND"],"paddingInner":0.364,"paddingOuter":0.182,"align":0.56}},"xOffset":{"field":"genotype","type":"nominal","scale":{"domain":["WT","ApoE-/-"],"paddingInner":0.31,"paddingOuter":0}},"y":{"field":"upper","type":"quantitative","scale":{"domain":[0,300],"range":[182,-13],"nice":false}}}},
{"data":{"name":"bars"},"transform":[{"filter":{"field":"chart","equal":"Adiponectin"}}],"mark":{"type":"text","baseline":"top","dy":12,"fontSize":14,"fontWeight":"bold","color":"black"},
"encoding":{"x":{"field":"diet","type":"nominal","scale":{"domain":["HFD","ND"],"paddingInner":0.364,"paddingOuter":0.182,"align":0.56}},"xOffset":{"field":"genotype","type":"nominal","scale":{"domain":["WT","ApoE-/-"],"paddingInner":0.31,"paddingOuter":0}},"y":{"datum":0,"type":"quantitative","scale":{"domain":[0,300],"range":[182,-13],"nice":false}},"text":{"field":"genotype"}}},
{"data":{"name":"bars"},"transform":[{"filter":{"field":"chart","equal":"Adiponectin"}},{"filter":{"field":"genotype","equal":"WT"}}],"mark":{"type":"bar","color":"black"},
"encoding":{"x":{"field":"diet","type":"nominal","scale":{"domain":["HFD","ND"],"paddingInner":0.364,"paddingOuter":0.182,"align":0.56}},"y":{"datum":-53.8,"type":"quantitative","scale":{"domain":[0,300],"range":[182,-13],"nice":false}},"y2":{"datum":-56.3}}},
{"data":{"name":"brackets"},"transform":[{"filter":{"field":"chart","equal":"Adiponectin"}}],"mark":{"type":"line","color":"black","strokeWidth":1.6},
"encoding":{"x":{"field":"diet","type":"nominal","scale":{"domain":["HFD","ND"],"paddingInner":0.364,"paddingOuter":0.182,"align":0.56}},"xOffset":{"field":"genotype","type":"nominal","scale":{"domain":["WT","ApoE-/-"],"paddingInner":0.31,"paddingOuter":0}},"y":{"field":"y","type":"quantitative","scale":{"domain":[0,300],"range":[182,-13],"nice":false}},"detail":{"field":"b","type":"nominal"},"order":{"field":"i","type":"quantitative"}}},
{"data":{"name":"labels"},"transform":[{"filter":{"field":"chart","equal":"Adiponectin"}},{"filter":{"field":"pos","equal":"c"}}],"mark":{"type":"text","baseline":"alphabetic","dy":-3,"fontSize":13,"fontWeight":"bold","color":"black"},
"encoding":{"x":{"field":"diet","type":"nominal","scale":{"domain":["HFD","ND"],"paddingInner":0.364,"paddingOuter":0.182,"align":0.56}},"y":{"field":"y","type":"quantitative","scale":{"domain":[0,300],"range":[182,-13],"nice":false}},"text":{"field":"label"}}},
{"data":{"name":"labels"},"transform":[{"filter":{"field":"chart","equal":"Adiponectin"}},{"filter":{"field":"pos","equal":"p"}}],"mark":{"type":"text","baseline":"alphabetic","align":"right","dy":-3,"dx":-13,"fontSize":14,"fontWeight":"bold","fontStyle":"italic","color":"black"},
"encoding":{"x":{"field":"diet","type":"nominal","scale":{"domain":["HFD","ND"],"paddingInner":0.364,"paddingOuter":0.182,"align":0.56}},"y":{"field":"y","type":"quantitative","scale":{"domain":[0,300],"range":[182,-13],"nice":false}},"text":{"value":"P"}}},
{"data":{"name":"labels"},"transform":[{"filter":{"field":"chart","equal":"Adiponectin"}},{"filter":{"field":"pos","equal":"p"}}],"mark":{"type":"text","baseline":"alphabetic","align":"left","dy":-3,"dx":-13,"fontSize":14,"fontWeight":"bold","color":"black"},
"encoding":{"x":{"field":"diet","type":"nominal","scale":{"domain":["HFD","ND"],"paddingInner":0.364,"paddingOuter":0.182,"align":0.56}},"y":{"field":"y","type":"quantitative","scale":{"domain":[0,300],"range":[182,-13],"nice":false}},"text":{"value":"<0.05"}}}
]}
]}
],
"spacing":22
}
